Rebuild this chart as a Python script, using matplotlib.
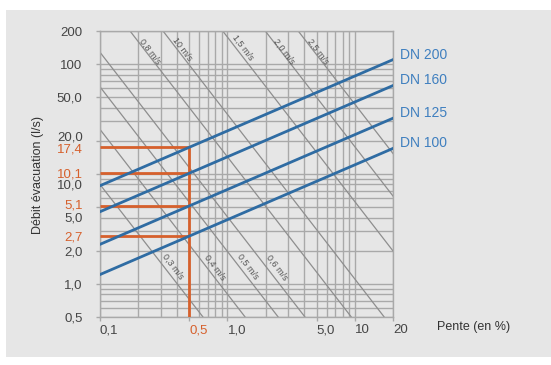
import matplotlib
matplotlib.use('Agg')
import matplotlib.pyplot as plt
import matplotlib.transforms as mtrans
from matplotlib.patches import Rectangle
from matplotlib.ticker import NullLocator

plt.rcParams['font.family'] = ['Liberation Sans', 'DejaVu Sans']

# ---------------- data ----------------
# pipe diameter lines (flow in l/s at slope 0.1 % and 20 %)
dn_names = ['DN 200', 'DN 160', 'DN 125', 'DN 100']
dn_slope = [0.1, 20]
dn_q_start = [7.8, 4.52, 2.28, 1.21]
dn_q_end = [110, 63.9, 32.2, 17.1]

# velocity lines (start / end points read on the chart)
vel_labels = ['0,3 m/s', '0,4 m/s', '0,5 m/s', '0,6 m/s', '0,8 m/s',
              '10 m/s', '1,5 m/s', '2,0 m/s', '2,5 m/s']
vel_s_start = [0.1, 0.1, 0.1, 0.1, 0.172, 0.312, 0.918, 1.98, 3.59]
vel_q_start = [8.0, 25.4, 62, 128, 200, 200, 200, 200, 200]
vel_s_end = [0.64, 1.37, 2.49, 4.04, 9.33, 16.9, 20, 20, 20]
vel_q_end = [0.5, 0.5, 0.5, 0.5, 0.5, 0.5, 1.97, 6.23, 15.2]
vel_label_s = [0.374, 0.80, 1.455, 2.46, 0.247, 0.441, 1.33, 2.79, 5.16]
vel_label_q = [1.43, 1.40, 1.43, 1.40, 131, 137, 140, 131, 131]

# design example
design_slope = 0.5
design_flows = [17.4, 10.1, 5.1, 2.7]
design_labels = ['17,4', '10,1', '5,1', '2,7']

# axes ticks
y_ticks = [0.5, 1, 2, 5, 10, 20, 50, 100, 200]
y_tick_labels = ['0,5', '1,0', '2,0', '5,0', '10,0', '20,0', '50,0', '100', '200']
x_ticks = [0.1, 0.5, 1, 5, 10, 20]
x_tick_labels = ['0,1', '0,5', '1,0', '5,0', '10', '20']

grid_x = [0.1, 0.2, 0.3, 0.4, 0.5, 0.6, 0.7, 0.8, 0.9,
          1, 2, 3, 4, 5, 6, 7, 8, 9, 10, 20]
grid_y = [0.5, 0.6, 0.7, 0.8, 0.9, 1, 2, 3, 4, 5, 6, 7, 8, 9,
          10, 20, 30, 40, 50, 60, 70, 80, 90, 100, 200]

# ---------------- style ----------------
BG = '#e6e6e6'
GRID = '#a9a9a9'
DIAG = '#8e8e8e'
RED = '#d6602c'
BLUE = '#2f6ca3'
BLUE_TXT = '#3f7fbf'
TXT = '#454545'

fig = plt.figure(figsize=(5.51, 3.65), dpi=100)
fig.patch.set_facecolor('white')
fig.patches.append(Rectangle((6 / 551, 1 - 357 / 365), 545 / 551, 347 / 365,
                             transform=fig.transFigure, facecolor=BG,
                             edgecolor='none', zorder=-10))

ax = fig.add_axes([100 / 551, 1 - 316.7 / 365, 293.3 / 551, 285.7 / 365])
ax.set_zorder(1)
ax.set_facecolor('none')
ax.set_xscale('log')
ax.set_yscale('log')
ax.set_xlim(0.1, 20)
ax.set_ylim(0.5, 200)

for gx in grid_x:
    ax.axvline(gx, color=GRID, lw=1.0, zorder=1)
for gy in grid_y:
    ax.axhline(gy, color=GRID, lw=1.0, zorder=1)

for s0, q0, s1, q1 in zip(vel_s_start, vel_q_start, vel_s_end, vel_q_end):
    ax.plot([s0, s1], [q0, q1], color=DIAG, lw=0.9, zorder=2)
for lab, s, q in zip(vel_labels, vel_label_s, vel_label_q):
    ax.text(s, q, lab, rotation=-53, rotation_mode='anchor', ha='center',
            va='center', fontsize=6.5, color='#555555', zorder=2)

# design example in red
ax.plot([design_slope, design_slope], [0.5, max(design_flows)], color=RED,
        lw=2, zorder=3, solid_capstyle='butt')
for q in design_flows:
    ax.plot([0.1, design_slope], [q, q], color=RED, lw=2, zorder=3,
            solid_capstyle='butt')

# diameter lines
for name, q0, q1 in zip(dn_names, dn_q_start, dn_q_end):
    ax.plot(dn_slope, [q0, q1], color=BLUE, lw=2, zorder=4)
    ax.annotate(name, xy=(dn_slope[1], q1), xytext=(7, 5),
                textcoords='offset pixels', ha='left', va='center',
                fontsize=10, color=BLUE_TXT, annotation_clip=False)

for sp in ax.spines.values():
    sp.set_color(GRID)
    sp.set_linewidth(1.0)

ax.xaxis.set_minor_locator(NullLocator())
ax.yaxis.set_minor_locator(NullLocator())

ax.set_yticks(y_ticks + design_flows, labels=y_tick_labels + design_labels)
ax.set_xticks(x_ticks, labels=x_tick_labels)
ax.tick_params(axis='y', length=3, width=1, color=GRID, pad=9.5,
               labelsize=9.5, labelcolor=TXT)
ax.tick_params(axis='x', length=3, width=1, color=GRID, pad=2.5,
               labelsize=9.5, labelcolor=TXT)

yt = ax.yaxis.get_major_ticks()
n = len(y_ticks)
for i, t in enumerate(yt):
    if i >= n:
        t.label1.set_color(RED)
        t.tick1line.set_visible(False)
shifts = {'20,0': 5, '10,0': -10.5, '5,0': -10.5, '17,4': -1, '5,1': 1.5}
for t, lab in zip(yt, y_tick_labels + design_labels):
    if lab in shifts:
        off = mtrans.ScaledTranslation(0, shifts[lab] / 100, fig.dpi_scale_trans)
        t.label1.set_transform(t.label1.get_transform() + off)

for t, lab in zip(ax.xaxis.get_major_ticks(), x_tick_labels):
    t.label1.set_horizontalalignment('left')
    if lab == '0,5':
        t.label1.set_color(RED)

fig.text(436.7 / 551, 1 - 327 / 365, 'Pente (en %)', ha='left', va='center',
         fontsize=9, color='#333333')
fig.text(38 / 551, 1 - 175 / 365, 'Débit évacuation (l/s)', rotation=90,
         ha='center', va='center', fontsize=9, color='#333333')

fig.savefig('out.png', dpi=100, facecolor='white')
